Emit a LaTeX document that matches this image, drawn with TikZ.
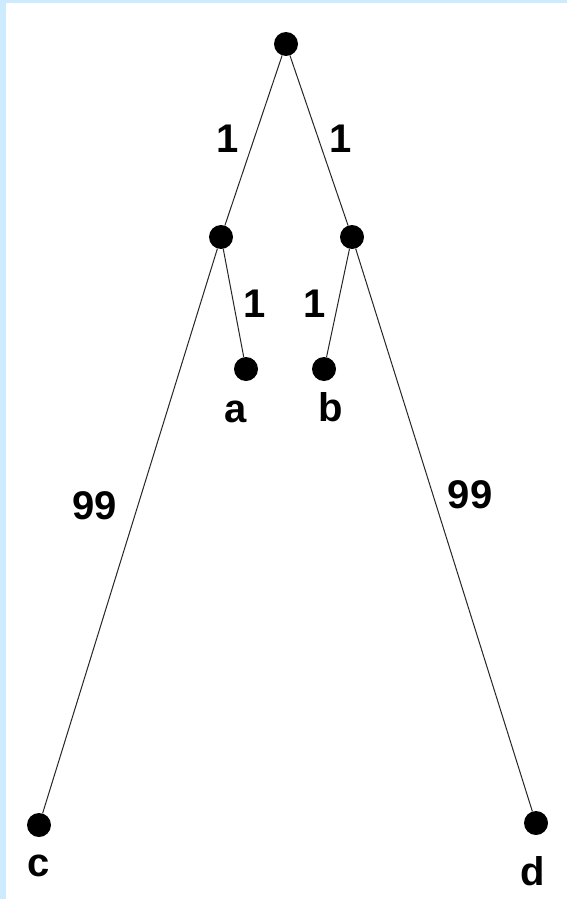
\documentclass[tikz,border=0pt]{standalone}
\usepackage{fontspec}
\setmainfont{Liberation Sans}
\usepackage{tikz}
\usepackage{xcolor}
\definecolor{frameblue}{HTML}{CCEBFF}

\tikzset{
	dot/.style={circle,fill=black,inner sep=0pt,minimum size=24pt},
	wlbl/.style={inner sep=0pt,font=\bfseries\fontsize{40}{40}\selectfont},
	edge/.style={draw=black!85,line width=1pt}
}

\begin{document}
\begin{tikzpicture}[x=1pt,y=-1pt]
		
		% Canvas and frame strips
		\useasboundingbox (0,0) rectangle (567,899);
		\fill[white] (0,0) rectangle (567,899);
		\fill[frameblue] (0,0) rectangle (6,899);
		\fill[frameblue] (0,0) rectangle (567,3);
		
		% Tree nodes
		\node[dot] (root) at (286,44) {};
		\node[dot] (left) at (221,237) {};
		\node[dot] (right) at (352,237) {};
		\node[dot] (a) at (246,369) {};
		\node[dot] (b) at (324,369) {};
		\node[dot] (c) at (39,825) {};
		\node[dot] (d) at (536,823) {};
		
		% Edges
		\draw[edge] (root) -- (left);
		\draw[edge] (root) -- (right);
		\draw[edge] (left) -- (a);
		\draw[edge] (left) -- (c);
		\draw[edge] (right) -- (b);
		\draw[edge] (right) -- (d);
		
		% Weights
		\node[wlbl] (w1) at (228,139) {1};
		\node[wlbl] (w2) at (341,139) {1};
		\node[wlbl] (w3) at (255,304) {1};
		\node[wlbl] (w4) at (315,304) {1};
		\node[wlbl] (w5) at (95,506) {99};
		\node[wlbl] (w6) at (470,495) {99};
		
		% Leaf names
		\node[wlbl] (na) at (236,412) {a};
		\node[wlbl] (nb) at (331,407) {b};
		\node[wlbl] (nc) at (39,866) {c};
		\node[wlbl] (nd) at (533,871) {d};
		
	\end{tikzpicture}
\end{document}
